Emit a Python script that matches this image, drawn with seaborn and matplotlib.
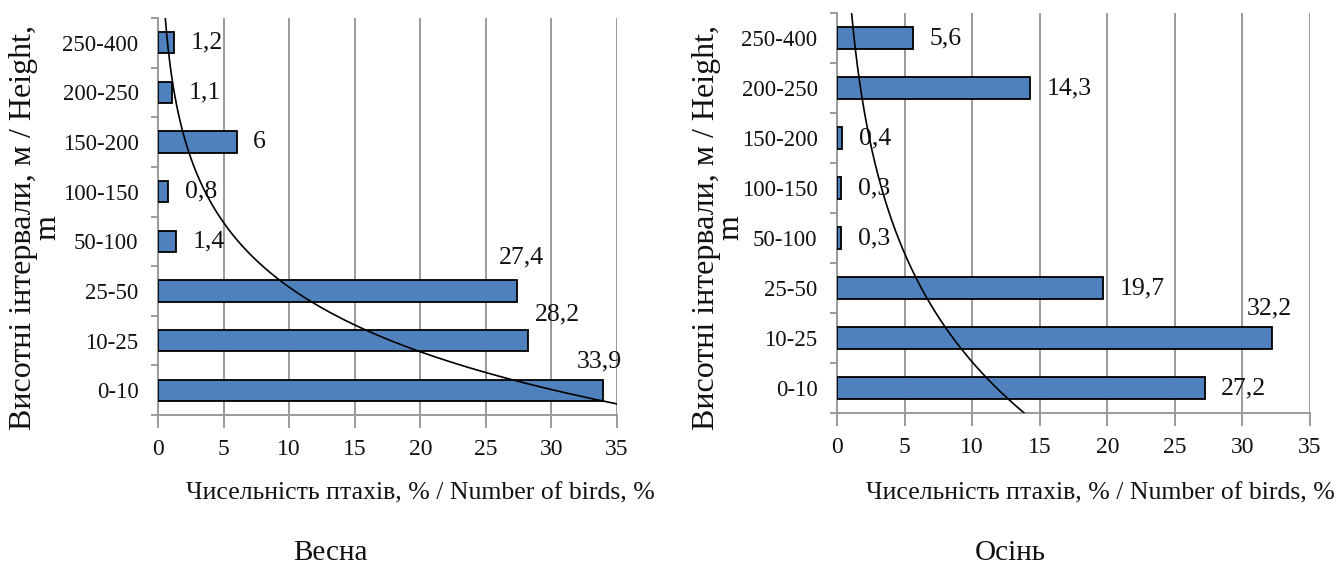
import numpy as np
import pandas as pd
import matplotlib
matplotlib.use("Agg")
import matplotlib.pyplot as plt
from matplotlib.ticker import FixedLocator, MultipleLocator
import seaborn as sns

# Height intervals, listed bottom-up (0-10 m first)
heights = ["0-10", "10-25", "25-50", "50-100", "100-150", "150-200", "200-250", "250-400"]
spring = [33.9, 28.2, 27.4, 1.4, 0.8, 6.0, 1.1, 1.2]
autumn = [27.2, 32.2, 19.7, 0.3, 0.3, 0.4, 14.3, 5.6]
x_ticks = [0, 5, 10, 15, 20, 25, 30, 35]
season_titles = ["Весна", "Осінь"]
x_title = "Чисельність птахів, % / Number of birds, %"
y_title = "Висотні інтервали, м / Height,\nm"

# Where each value label sits: to the right of the bar end, or above it
# (dx, dy in points for the "above" ones)
spring_label_pos = {"33,9": (-2, 21), "28,2": (21, 19), "27,4": (3, 24)}
autumn_label_pos = {"32,2": (-2, 21)}

sns.set_theme(style="white")
plt.rcParams["font.family"] = ["Liberation Serif", "DejaVu Serif"]
plt.rcParams["axes.unicode_minus"] = False

BAR = "#4F81BD"
GRID = "#9A9A9A"
INK = "#111111"

fig = plt.figure(figsize=(13.36, 5.70), dpi=100)
W, H = 1336, 570
ax1 = fig.add_axes([158 / W, 1 - 415 / H, 459 / W, 397 / H])
ax2 = fig.add_axes([837 / W, 1 - 413 / H, 473 / W, 400 / H])


def fmt(v):
    return f"{v:g}".replace(".", ",")


def draw_panel(ax, values, above):
    df = pd.DataFrame({"height": heights, "pct": values})
    order = heights[::-1]  # top of the axis is the highest interval
    sns.barplot(data=df, x="pct", y="height", order=order, orient="h",
                color=BAR, saturation=1, width=0.43, edgecolor="black",
                linewidth=1.3, ax=ax, zorder=3)

    ax.set_xlim(0, 35)
    ax.set_ylim(len(heights) - 0.5, -0.5)

    # exponential trend line fitted over the category index (1 = 0-10 m)
    idx = np.arange(1, len(values) + 1)
    k, lnc = np.polyfit(idx, np.log(values), 1)
    t = np.linspace(0.5, len(values) + 0.5, 300)
    ax.plot(np.exp(lnc + k * t), len(values) - t, color="black", lw=1.2,
            zorder=4, clip_on=True)

    # value labels
    for p, v in enumerate(values):
        pos = len(values) - 1 - p
        lab = fmt(v)
        if lab in above:
            dx, dy = above[lab]
            ax.annotate(lab, (v, pos), xytext=(dx, dy), textcoords="offset points",
                        ha="center", va="center", fontsize=18.5, color=INK)
        else:
            ax.annotate(lab, (v, pos), xytext=(12, 0), textcoords="offset points",
                        ha="left", va="center", fontsize=18.5, color=INK)

    # axes styling
    ax.xaxis.set_major_locator(FixedLocator(x_ticks))
    ax.set_xticklabels([str(x) for x in x_ticks])
    ax.grid(axis="x", color=GRID, lw=1.4, zorder=0)
    ax.grid(axis="y", visible=False)
    ax.set_axisbelow(True)
    for s in ["top", "right"]:
        ax.spines[s].set_visible(False)
    for s in ["left", "bottom"]:
        ax.spines[s].set_color(GRID)
        ax.spines[s].set_linewidth(1.4)
    ax.yaxis.set_minor_locator(MultipleLocator(1, offset=0.5))
    ax.tick_params(axis="y", which="major", length=0, pad=14, labelsize=16.5,
                   labelcolor=INK)
    ax.tick_params(axis="y", which="minor", left=True, length=5, width=1.4,
                   color=GRID)
    ax.tick_params(axis="x", which="major", bottom=True, length=9, width=1.4,
                   color=GRID, pad=8, labelsize=17, labelcolor=INK)
    ax.set_xlabel("")
    ax.set_ylabel("")


draw_panel(ax1, spring, spring_label_pos)
draw_panel(ax2, autumn, autumn_label_pos)

# axis titles and season captions
for cx, lx, sx, title in [(420, 36, 330, season_titles[0]),
                          (1100, 719, 1010, season_titles[1])]:
    fig.text(cx / W, 1 - 493 / H, x_title, ha="center", va="center",
             fontsize=18.5, color=INK)
    fig.text(lx / W, 1 - 228 / H, y_title, ha="center", va="center",
             rotation=90, fontsize=23, linespacing=0.8, multialignment="center",
             color=INK)
    fig.text(sx / W, 1 - 553 / H, title, ha="center", va="center",
             fontsize=21, color=INK)

fig.savefig("out.png", dpi=100, facecolor="white")
